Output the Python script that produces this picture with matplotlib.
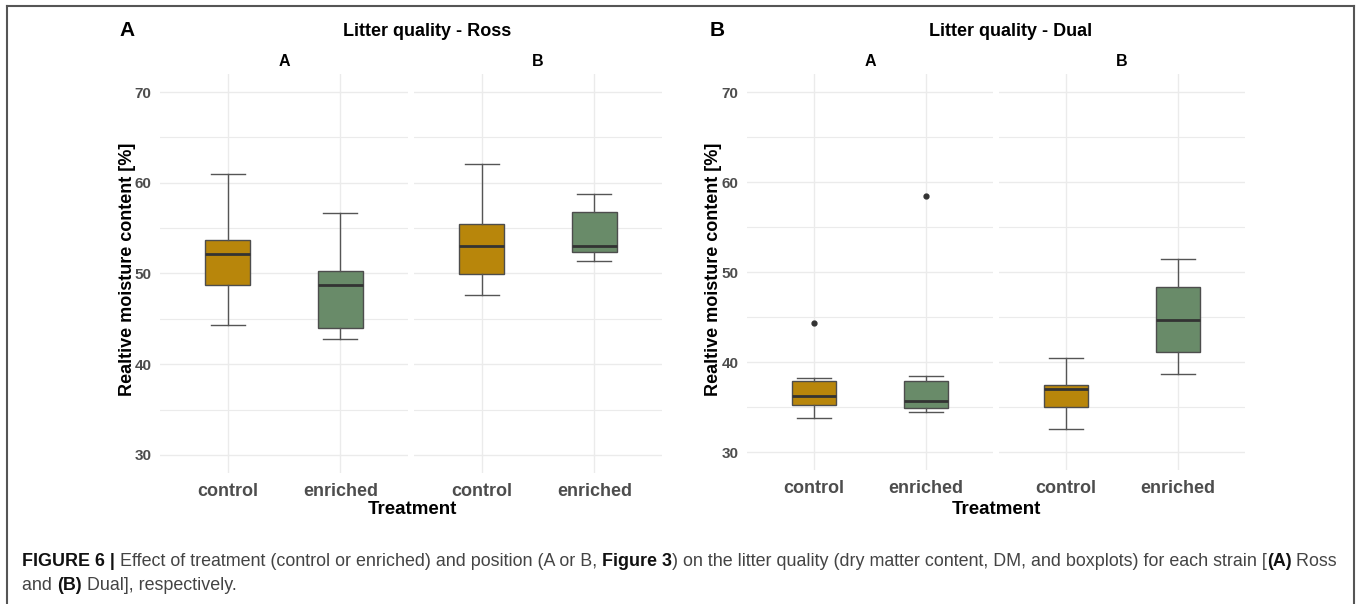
import matplotlib
matplotlib.use("Agg")
import matplotlib.pyplot as plt
from matplotlib.lines import Line2D

W, H = 1357, 604

treatments = ["control", "enriched"]
positions = ["A", "B"]
colors = ["#B8860B", "#698B69"]

# box stats per treatment: whisker low, q1, median, q3, whisker high
ross_A = [(44.3, 48.7, 52.1, 53.7, 61.0), (42.75, 44.0, 48.7, 50.3, 56.7)]
ross_B = [(47.6, 49.9, 53.0, 55.5, 62.1), (51.4, 52.4, 53.0, 56.8, 58.8)]
dual_A = [(33.8, 35.2, 36.2, 37.9, 38.2), (34.5, 34.9, 35.7, 37.9, 38.5)]
dual_B = [(32.6, 35.05, 37.0, 37.45, 40.5), (38.7, 41.15, 44.7, 48.35, 51.5)]
ross_A_out = [[], []]
ross_B_out = [[], []]
dual_A_out = [[44.3], [58.4]]
dual_B_out = [[], []]

y_ticks = [30, 40, 50, 60, 70]
y_minor = [35, 45, 55, 65]

SANS = ["Liberation Sans", "DejaVu Sans"]

fig = plt.figure(figsize=(W / 100, H / 100), dpi=100)


def px_axes(x0, x1, y0, y1):
    return fig.add_axes([x0 / W, 1 - y1 / H, (x1 - x0) / W, (y1 - y0) / H])


def facet(ax, stats, outs, show_y):
    data = []
    for (lo, q1, med, q3, hi), fl in zip(stats, outs):
        data.append(dict(whislo=lo, q1=q1, med=med, q3=q3, whishi=hi, fliers=fl))
    b = ax.bxp(data, positions=[1, 2], widths=0.4, capwidths=0.3, patch_artist=True,
               boxprops=dict(edgecolor="#4d4d4d", linewidth=1.0),
               whiskerprops=dict(color="#555555", linewidth=1.0),
               capprops=dict(color="#555555", linewidth=1.0),
               medianprops=dict(color="#333333", linewidth=2.0),
               flierprops=dict(marker="o", markersize=3.5, markerfacecolor="#333333",
                               markeredgecolor="#333333"))
    for patch, c in zip(b["boxes"], colors):
        patch.set_facecolor(c)
    ax.set_xlim(0.4, 2.6)
    ax.set_ylim(28, 72)
    ax.set_yticks(y_ticks)
    ax.set_yticks(y_minor, minor=True)
    ax.set_xticks([1, 2])
    ax.set_xticklabels(treatments, family=SANS, fontweight="bold", fontsize=13, color="#4d4d4d")
    ax.grid(True, which="major", color="#ebebeb", linewidth=1.0)
    ax.grid(True, which="minor", axis="y", color="#ebebeb", linewidth=0.8)
    ax.set_axisbelow(True)
    for s in ax.spines.values():
        s.set_visible(False)
    ax.tick_params(axis="both", which="both", length=0)
    ax.tick_params(axis="x", pad=7)
    ax.tick_params(axis="y", pad=6)
    if show_y:
        ax.set_yticklabels([str(t) for t in y_ticks], family=SANS, fontweight="bold",
                           fontsize=11, color="#4d4d4d")
    else:
        ax.set_yticklabels([])


panels = [
    ("A", "Litter quality - Ross", [(160, 408), (414, 662)], (74, 473), [ross_A, ross_B],
     [ross_A_out, ross_B_out], 127, 427, 412, 128),
    ("B", "Litter quality - Dual", [(747, 993), (999, 1245)], (74, 470), [dual_A, dual_B],
     [dual_A_out, dual_B_out], 717, 1011, 996, 714),
]

for tag, title, xs, (y0, y1), stats, outs, tag_x, title_x, xlab_x, ylab_x in panels:
    for i, ((x0, x1), st, ou) in enumerate(zip(xs, stats, outs)):
        ax = px_axes(x0, x1, y0, y1)
        facet(ax, st, ou, i == 0)
        fig.text((x0 + x1) / 2 / W, 1 - 62 / H, positions[i], family=SANS, fontweight="bold",
                 fontsize=11.5, ha="center", va="center")
    fig.text(tag_x / W, 1 - 31 / H, tag, family=SANS, fontweight="bold", fontsize=15,
             ha="center", va="center")
    fig.text(title_x / W, 1 - 31 / H, title, family=SANS, fontweight="bold", fontsize=13,
             ha="center", va="center")
    fig.text(xlab_x / W, 1 - 509 / H, "Treatment", family=SANS, fontweight="bold",
             fontsize=13.5, ha="center", va="center")
    fig.text(ylab_x / W, 1 - 269 / H, "Realtive moisture content [%]", family=SANS,
             fontweight="bold", fontsize=13, rotation=90, ha="center", va="center")

# outer frame (open at the bottom)
fc = "#555555"
fig.add_artist(Line2D([7 / W, 1354 / W], [1 - 6 / H, 1 - 6 / H], color=fc, lw=1.5))
fig.add_artist(Line2D([7 / W, 7 / W], [0, 1 - 6 / H], color=fc, lw=1.5))
fig.add_artist(Line2D([1354 / W, 1354 / W], [0, 1 - 6 / H], color=fc, lw=1.5))

# caption, pieces chained one after another
cap_size = 12.9
line1 = [("FIGURE 6 | ", "bold"), ("Effect of treatment (control or enriched) and position (A or B, ", "normal"),
         ("Figure 3", "bold"), (") on the litter quality (dry matter content, DM, and boxplots) for each strain [", "normal"),
         ("(A)", "bold"), (" Ross", "normal")]
line2 = [("and ", "normal"), ("(B)", "bold"), (" Dual], respectively.", "normal")]
for line, ybase in [(line1, 566), (line2, 590)]:
    prev = None
    for txt, wt in line:
        col = "#111111" if wt == "bold" else "#444444"
        if prev is None:
            prev = fig.text(22 / W, 1 - ybase / H, txt, family=SANS, fontweight=wt,
                            fontsize=cap_size, color=col, ha="left", va="baseline")
        else:
            prev = fig.add_artist(plt.Annotation(txt, xy=(1, 0), xycoords=prev, family=SANS,
                                                 fontweight=wt, fontsize=cap_size, color=col,
                                                 ha="left", va="bottom"))
fig.savefig("out.png", dpi=100)
